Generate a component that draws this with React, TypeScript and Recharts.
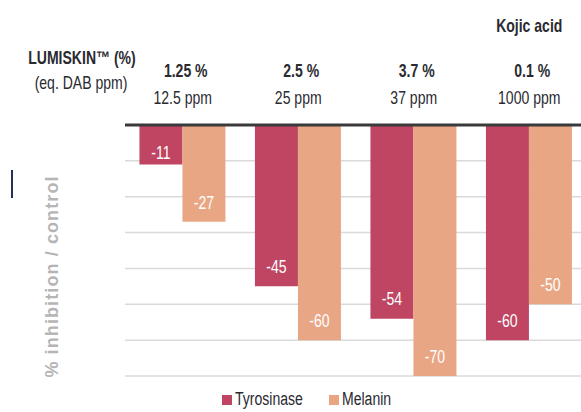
import React from "react";
import {
  BarChart, Bar, XAxis, YAxis, CartesianGrid,
  ReferenceLine, Legend, LabelList, Label,
} from "recharts";

const groups = ["1.25 %", "2.5 %", "3.7 %", "0.1 %"];
const ppm = ["12.5 ppm", "25 ppm", "37 ppm", "1000 ppm"];
const headerTop = ["", "", "", "Kojic acid"];
const tyrosinase = [-11, -45, -54, -60];
const melanin = [-27, -60, -70, -50];
const yTicks = [-70, -60, -50, -40, -30, -20, -10, 0];

const TYR = "#bf4562";
const MEL = "#e8a685";
const FONT = "'Liberation Sans', Arial, sans-serif";
const TEXT = "#2a2a30";
const SQUEEZE = 0.78;

const data = groups.map((g, i) => ({
  group: g,
  ppm: ppm[i],
  top: headerTop[i],
  Tyrosinase: tyrosinase[i],
  Melanin: melanin[i],
}));

// condensed text: regular sans squeezed horizontally
function NText({ x, y, children, ...rest }: any) {
  return (
    <text transform={`translate(${x} ${y}) scale(${SQUEEZE} 1)`} x={0} y={0}
      textAnchor="middle" dominantBaseline="central" fontFamily={FONT} fontSize={18} {...rest}>
      {children}
    </text>
  );
}

function HeaderTick(props: any) {
  const { x, payload, index } = props;
  const base = 125;
  return (
    <g fill={TEXT}>
      {headerTop[index] ? (
        <NText x={x} y={base - 100} fontWeight="bold" fill={TEXT}>{headerTop[index]}</NText>
      ) : null}
      <NText x={x + 3} y={base - 55} fontWeight="bold" fill={TEXT}>{payload.value}</NText>
      <NText x={x} y={base - 28} fill={TEXT}>{ppm[index]}</NText>
    </g>
  );
}

function BarValue(props: any) {
  const { x, y, width, height, value } = props;
  const top = Math.min(y, y + height);
  const h = Math.abs(height);
  const cy = top + h - Math.min(20, h * 0.31);
  return <NText x={x + width / 2} y={cy} fill="#fff">{value}</NText>;
}

function LeftLabels(props: any) {
  const vb = props.viewBox;
  const cx = vb.x + 52;
  const cy = vb.y + vb.height / 2 + 26;
  return (
    <g>
      <text x={cx} y={cy} transform={`rotate(-90 ${cx} ${cy})`} textAnchor="middle"
        dominantBaseline="central" fill="#b5b5b5" fontSize={18} fontWeight="bold"
        fontFamily={FONT} letterSpacing={1.1}>
        % inhibition / control
      </text>
      <NText x={82} y={57} fill={TEXT} fontWeight="bold">LUMISKIN™ (%)</NText>
      <NText x={81} y={82} fill={TEXT}>(eq. DAB ppm)</NText>
    </g>
  );
}

function LegendContent() {
  const items = [
    { name: "Tyrosinase", color: TYR },
    { name: "Melanin", color: MEL },
  ];
  return (
    <div style={{ display: "flex", alignItems: "center", fontFamily: FONT, fontSize: 18, color: TEXT }}>
      {items.map((it) => (
        <div key={it.name} style={{ display: "flex", alignItems: "center", marginRight: 20 }}>
          <span style={{ width: 10, height: 10, background: it.color, display: "inline-block", marginRight: 3 }} />
          <span style={{ display: "inline-block", transform: `scaleX(${SQUEEZE})`, transformOrigin: "left center", width: it.name.length * 7.4 }}>
            {it.name}
          </span>
        </div>
      ))}
    </div>
  );
}

export default function App() {
  return (
    <div style={{ position: "absolute", left: 0, top: 0, width: 581, height: 412, overflow: "hidden", background: "#fff" }}>
      <div style={{ position: "absolute", left: 11, top: 170, width: 2, height: 28, background: "#1f3354" }} />
      <BarChart
        width={590}
        height={412}
        data={data}
        margin={{ top: 0, right: 3, left: 0, bottom: 15 }}
        barCategoryGap="12.5%"
        barGap={0}
      >
        <CartesianGrid vertical={false} stroke="#dadada" strokeWidth={1.5} />
        <XAxis dataKey="group" orientation="top" height={125} axisLine={false}
          tickLine={false} interval={0} tick={<HeaderTick />} />
        <YAxis width={125} domain={[-70, 0]} ticks={yTicks} tick={() => <g />}
          axisLine={false} tickLine={false}>
          <Label content={<LeftLabels />} />
        </YAxis>
        <ReferenceLine y={0} stroke="#3a3a3a" strokeWidth={3} />
        <Bar dataKey="Tyrosinase" fill={TYR} isAnimationActive={false}>
          <LabelList dataKey="Tyrosinase" content={<BarValue />} />
        </Bar>
        <Bar dataKey="Melanin" fill={MEL} isAnimationActive={false}>
          <LabelList dataKey="Melanin" content={<BarValue />} />
        </Bar>
        <Legend content={<LegendContent />} wrapperStyle={{ left: 222, top: 389, width: 230 }} />
      </BarChart>
    </div>
  );
}
